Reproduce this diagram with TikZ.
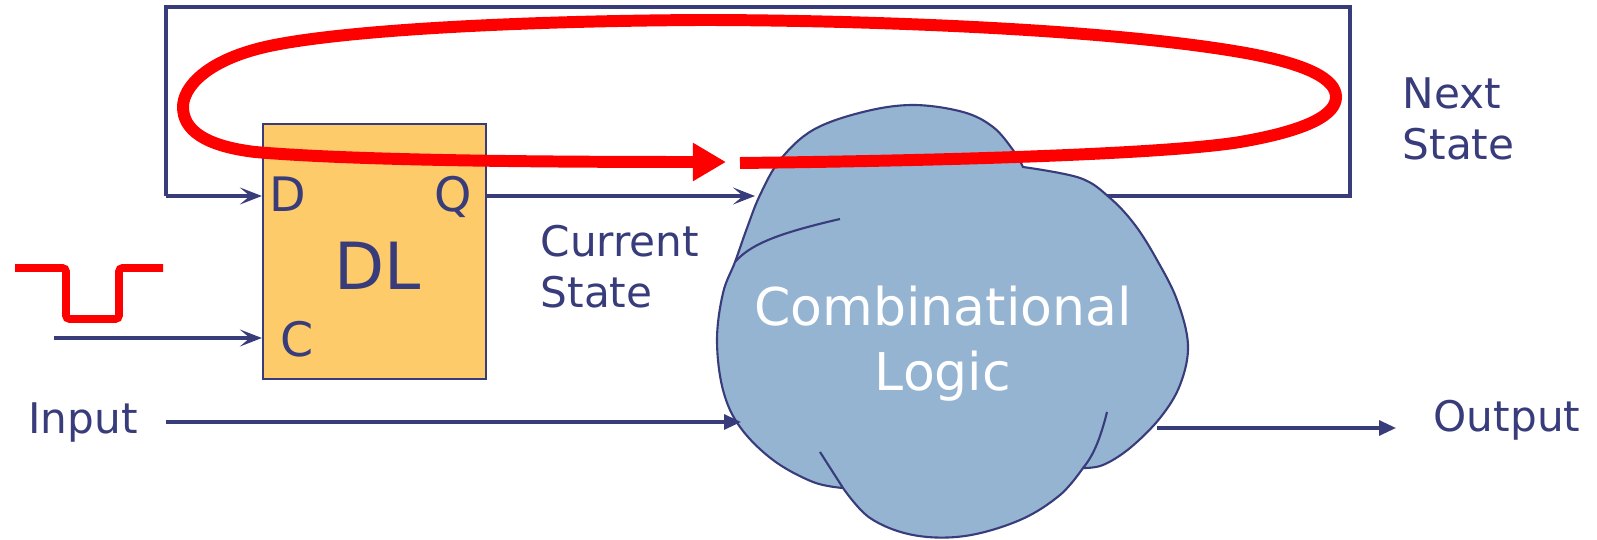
\documentclass[tikz,border=0pt]{standalone}
\usepackage{fontspec}
\setmainfont{DejaVu Sans}
\usetikzlibrary{arrows.meta, positioning, calc}

\definecolor{navy}{RGB}{56,60,122}
\definecolor{latchfill}{RGB}{253,203,106}
\definecolor{cloudfill}{RGB}{148,180,210}

\tikzset{
  wire/.style={navy, line width=0.9pt},
  openarrow/.style={-{Stealth[length=0.22cm, width=0.17cm, inset=0.1cm]}},
  fillarrow/.style={-{Triangle[length=0.17cm, width=0.15cm]}},
  lbl/.style={navy, font=\fontsize{12}{14.5}\selectfont, inner sep=0pt},
  pinlbl/.style={navy, font=\fontsize{13.5}{16}\selectfont, inner sep=0pt, anchor=base},
  redline/.style={red, line width=3.4pt},
}

\begin{document}
\begin{tikzpicture}[x=0.01cm, y=-0.01cm]
  \useasboundingbox (0,0) rectangle (1597,540);

  % 1. Define Coordinates
  \coordinate (ns) at (1060,196);   % next state leaves the logic
  \coordinate (tr) at (1350,7);
  \coordinate (tl) at (166,7);
  \coordinate (cs) at (755,196);    % current state enters the logic
  \coordinate (inp) at (741,422);
  \coordinate (inl) at (166,422);
  \coordinate (outp) at (1157,428);
  \coordinate (outr) at (1396,428);
  \coordinate (clk) at (54,338);

  % Cloud junctions
  \coordinate (j1) at (735,262);
  \coordinate (j2) at (1023,167);
  \coordinate (j3) at (1083,468);
  \coordinate (j4) at (843,488);

  % 2. Latch and feedback loop
  \draw[wire, line join=miter] (ns) -- (tr |- ns) -- (tr) -- (tl) -- (tl |- cs);
  \node[draw=navy, line width=0.6pt, fill=latchfill, minimum width=2.23cm,
        minimum height=2.55cm, inner sep=0pt] (dl) at (374.5,251.5) {};
  \draw[wire, openarrow] (tl |- cs) -- (dl.west |- cs);

  % 3. The logic cloud
  \filldraw[fill=cloudfill, draw=navy, line width=0.6pt]
    (j4) -- plot[smooth, tension=0.6] coordinates {(843,488) (813,482) (773,460) (740,427)
      (723,390) (717,340) (723,293) (735,262) (747,228) (760,195) (780,160) (813,130)
      (863,112) (913,105) (963,112) (993,127) (1013,150) (1023,167)}
    -- plot[smooth, tension=0.6] coordinates {(1023,167) (1080,178) (1110,198)
      (1135,225) (1157,260) (1177,300) (1188,345) (1180,385) (1160,418) (1130,448)
      (1103,465) (1083,468)}
    -- plot[smooth, tension=0.6] coordinates {(1083,468) (1060,495) (1020,520)
      (965,536) (913,535) (870,518) (843,488)}
    -- cycle;
  \draw[navy, line width=0.6pt] (j1) .. controls (750,245) and (775,234) .. (840,219);
  \draw[navy, line width=0.6pt] (820,452) -- (j4);
  \draw[navy, line width=0.6pt] (1107,412) .. controls (1100,440) and (1093,456) .. (j3);
  \node[align=center, text=white, font=\fontsize{14.8}{18.5}\selectfont, inner sep=0pt]
    (cl) at (943,344) {Combinational\\Logic};

  % 4. Wires
  \draw[wire, openarrow] (dl.east |- cs) -- (cs);
  \draw[wire, openarrow] (clk) -- (dl.west |- clk);
  \draw[wire, fillarrow] (inl) -- (inp);
  \draw[wire, fillarrow] (outp) -- (outr);

  % 5. Labels
  \node[pinlbl] (dpin) at (288,212) {D};
  \node[pinlbl] (qpin) at (453,212) {Q};
  \node[pinlbl] (cpin) at (297,357) {C};
  \node[navy, font=\fontsize{18.5}{22}\selectfont, inner sep=0pt, anchor=base]
    (dlname) at (378,290) {DL};
  \node[lbl, anchor=west, align=left] (cur) at (540,267) {Current\\State};
  \node[lbl, anchor=west, align=left] (nxt) at (1402,119) {Next\\State};
  \node[lbl, anchor=base] (inlbl) at (83,433) {Input};
  \node[lbl, anchor=base] (outlbl) at (1507,432) {Output};

  % 6. Clock pulse and the loop
  \draw[redline, line width=2.2pt, rounded corners=1pt]
    (15,268) -- (66,268) -- (66,319) -- (119,319) -- (119,268) -- (163,268);
  \draw[redline, -{Triangle[length=0.33cm, width=0.36cm]}]
    (740,163) .. controls (1000,160) and (1180,152) .. (1240,142)
    .. controls (1310,130) and (1336,114) .. (1336,97)
    .. controls (1336,80) and (1310,64) .. (1240,52)
    .. controls (1100,28) and (850,20) .. (700,20)
    .. controls (520,21) and (340,30) .. (265,47)
    .. controls (205,61) and (183,88) .. (183,107)
    .. controls (183,130) and (205,146) .. (255,152)
    .. controls (360,161) and (560,162) .. (726,162);
\end{tikzpicture}
\end{document}
